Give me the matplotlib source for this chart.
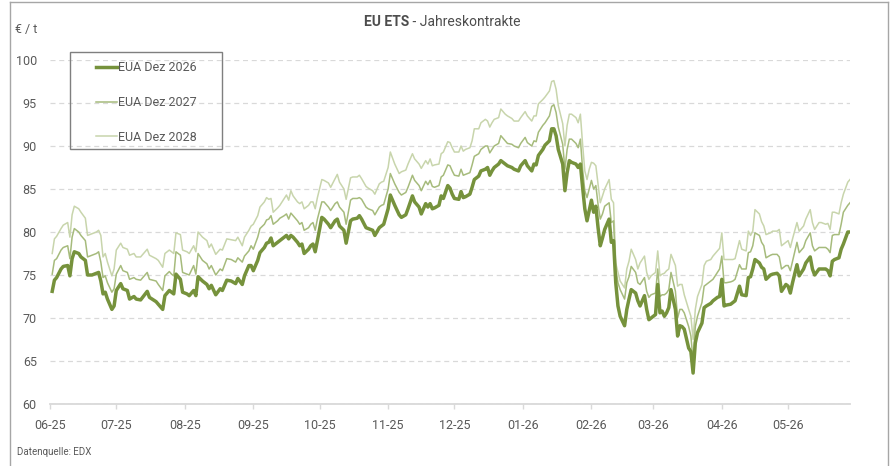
"""EU ETS annual contracts (EUA Dez 2026/2027/2028), daily settlement prices."""

import matplotlib

matplotlib.use("Agg")

import matplotlib.dates as mdates
import matplotlib.pyplot as plt
import pandas as pd
from matplotlib.lines import Line2D
from matplotlib.patches import Rectangle

plt.rcParams["font.family"] = ["Roboto", "DejaVu Sans"]

TEXT_COLOR = "#595959"
GRID_COLOR = "#d9d9d9"

SERIES_LABELS = ["EUA Dez 2026", "EUA Dez 2027", "EUA Dez 2028"]
SERIES_COLORS = ["#76923c", "#a6bb7c", "#c8d5ac"]
SERIES_WIDTHS = [2.5, 1.1, 1.1]

# trading days
DATES = [
    # 2025-06
    "2025-06-02", "2025-06-03", "2025-06-04", "2025-06-06", "2025-06-07", "2025-06-09", "2025-06-10", "2025-06-11",
    "2025-06-12", "2025-06-14", "2025-06-15", "2025-06-17", "2025-06-18", "2025-06-20", "2025-06-22", "2025-06-23",
    "2025-06-24", "2025-06-25", "2025-06-26", "2025-06-27", "2025-06-29", "2025-06-30",
    # 2025-07
    "2025-07-01", "2025-07-03", "2025-07-04", "2025-07-06", "2025-07-07", "2025-07-09", "2025-07-10", "2025-07-12",
    "2025-07-15", "2025-07-16", "2025-07-19", "2025-07-20", "2025-07-22", "2025-07-23", "2025-07-25", "2025-07-26",
    "2025-07-27", "2025-07-28", "2025-07-30", "2025-07-31",
    # 2025-08
    "2025-08-02", "2025-08-03", "2025-08-05", "2025-08-06", "2025-08-07", "2025-08-09", "2025-08-11", "2025-08-12",
    "2025-08-13", "2025-08-15", "2025-08-17", "2025-08-18", "2025-08-20", "2025-08-22", "2025-08-24", "2025-08-25",
    "2025-08-27", "2025-08-28", "2025-08-30", "2025-08-31",
    # 2025-09
    "2025-09-01", "2025-09-03", "2025-09-04", "2025-09-06", "2025-09-07", "2025-09-08", "2025-09-09", "2025-09-10",
    "2025-09-12", "2025-09-13", "2025-09-15", "2025-09-16", "2025-09-17", "2025-09-18", "2025-09-19", "2025-09-21",
    "2025-09-22", "2025-09-23", "2025-09-24", "2025-09-26", "2025-09-27", "2025-09-28", "2025-09-29", "2025-09-30",
    # 2025-10
    "2025-10-02", "2025-10-03", "2025-10-05", "2025-10-06", "2025-10-08", "2025-10-09", "2025-10-10", "2025-10-12",
    "2025-10-13", "2025-10-15", "2025-10-16", "2025-10-18", "2025-10-19", "2025-10-20", "2025-10-22", "2025-10-23",
    "2025-10-25", "2025-10-26", "2025-10-28", "2025-10-29", "2025-10-30",
    # 2025-11
    "2025-11-01", "2025-11-02", "2025-11-04", "2025-11-06", "2025-11-07", "2025-11-09", "2025-11-10", "2025-11-12",
    "2025-11-13", "2025-11-15", "2025-11-16", "2025-11-18", "2025-11-19", "2025-11-20", "2025-11-21", "2025-11-22",
    "2025-11-24", "2025-11-25", "2025-11-26", "2025-11-28", "2025-11-29", "2025-11-30",
    # 2025-12
    "2025-12-01", "2025-12-03", "2025-12-04", "2025-12-05", "2025-12-06", "2025-12-08", "2025-12-09", "2025-12-10",
    "2025-12-12", "2025-12-13", "2025-12-15", "2025-12-16", "2025-12-17", "2025-12-18", "2025-12-19", "2025-12-21",
    "2025-12-22", "2025-12-24", "2025-12-25", "2025-12-27", "2025-12-28", "2025-12-30", "2025-12-31",
    # 2026-01
    "2026-01-02", "2026-01-03", "2026-01-05", "2026-01-06", "2026-01-07", "2026-01-08", "2026-01-10", "2026-01-11",
    "2026-01-13", "2026-01-14", "2026-01-15", "2026-01-16", "2026-01-17", "2026-01-19", "2026-01-20", "2026-01-21",
    "2026-01-22", "2026-01-23", "2026-01-25", "2026-01-26", "2026-01-27", "2026-01-28", "2026-01-29", "2026-01-30",
    "2026-01-31",
    # 2026-02
    "2026-02-01", "2026-02-02", "2026-02-03", "2026-02-04", "2026-02-05", "2026-02-06", "2026-02-07", "2026-02-09",
    "2026-02-10", "2026-02-11", "2026-02-12", "2026-02-13", "2026-02-14", "2026-02-16", "2026-02-17", "2026-02-18",
    "2026-02-19", "2026-02-21", "2026-02-22", "2026-02-23", "2026-02-25", "2026-02-26", "2026-02-27", "2026-02-28",
    # 2026-03
    "2026-03-02", "2026-03-03", "2026-03-04", "2026-03-05", "2026-03-06", "2026-03-07", "2026-03-08", "2026-03-09",
    "2026-03-11", "2026-03-12", "2026-03-13", "2026-03-14", "2026-03-15", "2026-03-17", "2026-03-18", "2026-03-19",
    "2026-03-20", "2026-03-21", "2026-03-23", "2026-03-24", "2026-03-25", "2026-03-27", "2026-03-28", "2026-03-30",
    "2026-03-31",
    # 2026-04
    "2026-04-01", "2026-04-02", "2026-04-03", "2026-04-05", "2026-04-06", "2026-04-07", "2026-04-09", "2026-04-10",
    "2026-04-12", "2026-04-13", "2026-04-14", "2026-04-15", "2026-04-16", "2026-04-18", "2026-04-19", "2026-04-20",
    "2026-04-21", "2026-04-23", "2026-04-24", "2026-04-26", "2026-04-27", "2026-04-28", "2026-04-30",
    # 2026-05
    "2026-05-01", "2026-05-02", "2026-05-03", "2026-05-05", "2026-05-06", "2026-05-08", "2026-05-09", "2026-05-11",
    "2026-05-12", "2026-05-13", "2026-05-15", "2026-05-16", "2026-05-18", "2026-05-19", "2026-05-20", "2026-05-21",
    "2026-05-22", "2026-05-24", "2026-05-25", "2026-05-26", "2026-05-28", "2026-05-29",
]

EUA_DEZ_2026 = [
    73.1, 74.4, 74.7, 75.7, 76.0, 76.1, 74.9, 76.9, 77.7, 77.5, 77.1, 76.7, 75.0, 75.0, 75.2, 75.3, 74.3, 72.8, 73.0, 72.2, 71.0, 71.4,
    73.2, 74.0, 73.4, 73.2, 72.2, 72.5, 72.2, 72.1, 73.1, 72.4, 71.9, 71.6, 71.0, 72.6, 73.2, 73.0, 72.8, 75.1, 74.5, 73.0,
    72.8, 72.6, 73.2, 72.6, 74.8, 74.3, 73.9, 73.4, 73.8, 72.7, 73.4, 73.2, 74.4, 74.3, 74.0, 74.6, 73.9, 74.9, 76.1, 76.1,
    75.5, 76.7, 77.6, 78.2, 78.7, 78.8, 79.3, 78.4, 78.8, 79.0, 79.4, 79.6, 79.2, 79.6, 79.4, 78.8, 78.4, 78.6, 77.5, 78.0, 78.4, 78.6, 77.7, 79.0,
    81.7, 81.5, 80.9, 80.5, 81.3, 81.5, 80.7, 80.2, 78.7, 81.3, 81.5, 81.6, 81.9, 81.5, 80.5, 80.4, 80.2, 79.6, 80.5, 80.7, 80.9,
    82.7, 84.3, 83.1, 82.0, 81.7, 82.0, 82.7, 84.2, 83.5, 82.9, 82.1, 83.3, 82.9, 83.3, 82.7, 82.8, 83.1, 84.2, 83.9, 85.4, 85.1, 84.4,
    83.9, 83.8, 84.7, 84.0, 84.1, 84.4, 85.2, 86.1, 86.5, 87.1, 87.3, 87.5, 86.6, 87.1, 87.5, 87.9, 88.3, 87.9, 87.7, 87.5, 87.3, 87.1, 87.7,
    88.3, 87.7, 87.1, 87.9, 87.8, 88.9, 89.6, 90.1, 90.6, 92.0, 92.0, 91.2, 89.6, 87.9, 84.8, 86.9, 88.3, 88.1, 87.9, 87.5, 87.9, 85.2, 82.7, 81.3, 82.5,
    83.7, 82.3, 83.0, 80.5, 78.4, 79.3, 80.3, 81.5, 78.8, 79.0, 74.1, 71.4, 70.2, 69.1, 71.0, 72.2, 73.3, 72.9, 72.0, 71.4, 72.6, 71.0, 69.8, 70.0,
    70.4, 73.9, 70.6, 70.8, 70.2, 70.6, 71.2, 73.3, 71.0, 67.9, 69.1, 69.0, 68.7, 66.5, 66.1, 63.6, 67.1, 68.3, 69.4, 71.2, 71.4, 71.7, 72.0, 72.4, 72.5,
    74.5, 71.4, 71.5, 71.6, 71.8, 72.0, 73.7, 72.7, 72.6, 74.7, 74.8, 75.7, 76.8, 76.4, 75.9, 75.7, 74.5, 75.0, 75.1, 75.2, 74.9, 73.1, 73.9,
    73.7, 72.9, 74.1, 76.2, 74.9, 75.7, 76.4, 77.1, 75.7, 75.0, 75.7, 75.7, 75.7, 75.5, 74.9, 76.6, 76.8, 77.0, 78.0, 78.6, 80.0, 80.0,
]

EUA_DEZ_2027 = [
    75.1, 76.7, 76.9, 77.9, 78.2, 78.4, 76.9, 79.4, 80.4, 80.0, 79.6, 79.0, 77.1, 77.3, 77.5, 77.7, 76.5, 74.7, 74.9, 74.1, 73.0, 73.4,
    75.1, 76.1, 75.5, 75.3, 74.5, 74.7, 74.5, 74.4, 75.3, 74.5, 74.3, 73.9, 73.2, 74.9, 75.4, 75.1, 74.9, 77.7, 77.3, 75.3,
    75.1, 75.0, 76.1, 75.1, 77.5, 76.7, 76.3, 75.7, 76.1, 75.0, 75.7, 75.5, 76.9, 76.8, 76.5, 77.0, 76.5, 77.2, 77.8, 78.4,
    78.0, 79.4, 80.4, 80.9, 81.4, 81.5, 81.9, 80.9, 81.3, 81.6, 81.9, 82.1, 81.5, 82.2, 81.9, 81.3, 80.9, 81.1, 80.2, 80.5, 80.9, 81.1, 80.2, 81.5,
    83.5, 83.5, 82.9, 82.5, 83.3, 83.5, 82.9, 82.3, 80.9, 83.7, 83.9, 83.9, 84.0, 83.8, 82.9, 82.7, 82.5, 82.0, 82.9, 83.1, 83.2,
    85.0, 86.8, 85.6, 84.6, 84.3, 84.6, 85.2, 86.6, 86.0, 85.4, 84.8, 85.9, 85.5, 86.0, 85.3, 85.2, 85.4, 86.4, 86.6, 87.8, 87.7, 87.1,
    86.6, 86.5, 87.3, 86.6, 86.7, 86.9, 87.8, 88.8, 89.1, 89.6, 90.0, 90.0, 89.2, 89.6, 90.0, 90.3, 91.2, 90.6, 90.3, 90.2, 90.0, 89.8, 90.3,
    91.0, 90.4, 90.0, 90.6, 90.5, 91.6, 92.4, 92.7, 93.5, 94.6, 94.8, 93.9, 92.2, 90.2, 87.3, 89.6, 90.8, 90.8, 90.3, 89.8, 90.8, 87.3, 84.8, 84.0, 85.0,
    86.0, 85.0, 85.4, 83.2, 81.5, 82.1, 83.0, 83.4, 81.1, 81.3, 75.7, 74.1, 73.3, 72.2, 74.1, 74.8, 76.0, 75.3, 74.1, 73.9, 74.7, 73.1, 72.4, 72.7,
    72.9, 75.7, 72.5, 72.7, 72.7, 72.9, 73.3, 75.3, 73.1, 70.0, 71.0, 71.0, 70.6, 69.0, 67.9, 65.0, 69.0, 70.2, 71.8, 73.7, 73.9, 74.3, 74.5, 75.3, 75.7,
    77.2, 74.1, 74.1, 74.2, 74.3, 74.5, 76.2, 75.7, 75.7, 77.6, 77.7, 78.4, 79.9, 79.6, 78.8, 78.4, 77.0, 77.3, 77.4, 77.4, 77.1, 75.7, 76.1,
    76.1, 75.5, 76.6, 78.8, 77.6, 78.2, 79.0, 79.9, 78.4, 77.8, 78.2, 78.2, 78.2, 78.0, 77.6, 79.6, 79.7, 79.7, 80.9, 82.3, 83.1, 83.4,
]

EUA_DEZ_2028 = [
    77.5, 79.2, 79.5, 80.4, 80.8, 81.1, 79.4, 82.0, 83.0, 82.7, 82.3, 81.6, 79.6, 79.8, 80.0, 80.2, 79.6, 77.1, 77.5, 76.5, 74.9, 75.7,
    77.9, 78.7, 78.2, 78.0, 77.3, 77.5, 77.1, 77.1, 78.0, 77.3, 76.9, 76.7, 75.9, 77.5, 77.9, 77.7, 77.5, 79.9, 79.7, 77.9,
    77.7, 77.5, 78.4, 77.7, 80.0, 79.4, 79.0, 78.2, 78.6, 77.4, 78.0, 77.9, 79.2, 79.1, 79.0, 79.4, 78.4, 79.4, 80.2, 80.7,
    80.9, 81.9, 82.9, 83.5, 84.0, 83.8, 83.9, 82.3, 82.8, 83.1, 83.9, 84.3, 83.7, 84.8, 84.2, 83.5, 83.3, 83.5, 82.7, 83.1, 83.5, 83.5, 82.7, 84.0,
    86.1, 86.0, 85.7, 85.2, 86.2, 86.7, 85.8, 85.0, 83.8, 86.3, 86.4, 86.4, 86.6, 86.2, 85.3, 85.1, 84.8, 84.4, 85.6, 85.8, 85.9,
    87.5, 89.3, 87.9, 86.8, 87.0, 87.2, 87.9, 89.1, 88.5, 87.9, 87.4, 88.3, 87.9, 88.5, 87.7, 87.8, 87.9, 89.1, 89.3, 90.5, 90.4, 89.8,
    89.3, 89.3, 90.0, 89.4, 89.6, 89.8, 90.6, 92.0, 92.0, 92.7, 93.1, 92.9, 92.2, 92.7, 93.1, 93.3, 94.3, 93.7, 93.5, 93.2, 92.9, 92.9, 93.3,
    94.0, 93.5, 92.9, 93.5, 93.5, 94.9, 95.4, 95.7, 96.4, 97.5, 97.6, 96.6, 94.7, 92.6, 90.0, 92.4, 93.7, 93.7, 93.3, 92.7, 93.7, 90.2, 87.1, 86.1, 87.3,
    88.1, 88.0, 87.7, 85.6, 83.4, 84.2, 85.0, 86.1, 83.8, 83.4, 76.4, 75.3, 74.3, 73.5, 75.7, 76.6, 78.0, 76.8, 75.7, 76.4, 77.2, 75.3, 74.5, 74.9,
    75.3, 77.8, 74.9, 75.1, 75.2, 75.5, 75.7, 77.4, 76.1, 73.7, 73.9, 73.9, 72.7, 71.0, 70.2, 67.5, 71.0, 72.5, 73.9, 76.1, 76.6, 76.8, 77.2, 77.8, 78.1,
    79.9, 76.8, 76.8, 76.8, 76.8, 76.9, 79.0, 78.0, 77.8, 80.1, 79.6, 80.1, 82.6, 82.1, 81.2, 80.7, 79.7, 79.9, 80.1, 80.1, 80.3, 78.4, 78.8,
    79.0, 78.2, 79.2, 81.1, 80.1, 80.7, 81.5, 82.6, 81.1, 80.3, 81.1, 81.1, 80.9, 81.0, 80.3, 82.3, 82.3, 82.1, 83.4, 84.4, 85.8, 86.1,
]

Y_TICKS = [60, 65, 70, 75, 80, 85, 90, 95, 100]
X_START = "2025-06-01"
X_END = "2026-05-29"

W, H = 891, 466


def fx(px: float) -> float:
    return px / W


def fy(py: float) -> float:
    return 1 - py / H


def draw_frame(fig) -> None:
    # outer box of the source graphic (bottom edge is cut off)
    kw = dict(color="#a6a6a6", lw=1.0, transform=fig.transFigure)
    fig.add_artist(Line2D([fx(9.5), fx(9.5)], [fy(2), 0], **kw))
    fig.add_artist(Line2D([fx(9.5), fx(888)], [fy(2), fy(2)], **kw))
    fig.add_artist(Line2D([fx(888), fx(888)], [fy(2), 0], **kw))


def main() -> None:
    dates = pd.to_datetime(DATES)
    series = [EUA_DEZ_2026, EUA_DEZ_2027, EUA_DEZ_2028]

    fig = plt.figure(figsize=(W / 100, H / 100), dpi=100)
    ax = fig.add_axes([fx(50), fy(404), fx(850) - fx(50), fy(60) - fy(404)])

    handles = []
    for values, label, color, width in zip(series[::-1], SERIES_LABELS[::-1], SERIES_COLORS[::-1], SERIES_WIDTHS[::-1]):
        (line,) = ax.plot(dates, values, color=color, lw=width, label=label, solid_joinstyle="round")
        handles.append(line)
    handles = handles[::-1]

    ax.set_ylim(60, 100)
    ax.set_yticks(Y_TICKS)
    ax.set_xlim(pd.Timestamp(X_START), pd.Timestamp(X_END))
    ax.xaxis.set_major_locator(mdates.MonthLocator())
    ax.xaxis.set_major_formatter(mdates.DateFormatter("%m-%y"))

    ax.set_axisbelow(True)
    ax.grid(axis="y", color=GRID_COLOR, lw=0.9, linestyle=(0, (4, 3)))
    ax.grid(axis="x", visible=False)
    for side in ["top", "right", "left"]:
        ax.spines[side].set_visible(False)
    ax.spines["bottom"].set_color(GRID_COLOR)
    ax.spines["bottom"].set_linewidth(1.3)
    ax.spines["bottom"].set_zorder(0.5)

    ax.tick_params(axis="y", length=0, pad=9.5, labelsize=9, labelcolor=TEXT_COLOR)
    ax.tick_params(axis="x", length=3.5, width=1, color=GRID_COLOR, pad=7.5, labelsize=9, labelcolor=TEXT_COLOR)

    # title: bold part + regular part
    fig.text(fx(409), fy(22), "EU ETS", fontsize=10, fontweight="bold", color="#4d4d4d", ha="right", va="center")
    fig.text(fx(409), fy(22), " - Jahreskontrakte", fontsize=10, color="#4d4d4d", ha="left", va="center")

    fig.text(fx(15), fy(30), "€ / t", fontsize=9, color=TEXT_COLOR, ha="left", va="center")
    fig.text(fx(17), fy(452), "Datenquelle: EDX", fontsize=7, color=TEXT_COLOR, ha="left", va="center")

    leg = fig.legend(
        handles=handles,
        labels=SERIES_LABELS,
        loc="upper left",
        bbox_to_anchor=(fx(96), fy(61)),
        frameon=False,
        fontsize=9,
        handlelength=1.65,
        handletextpad=0.15,
        labelspacing=1.75,
        borderpad=0,
        borderaxespad=0,
    )
    for text in leg.get_texts():
        text.set_color(TEXT_COLOR)
    fig.add_artist(
        Rectangle(
            (fx(70), fy(149)),
            fx(222) - fx(70),
            fy(52) - fy(149),
            transform=fig.transFigure,
            fill=False,
            edgecolor="#7f7f7f",
            lw=1.0,
        )
    )

    draw_frame(fig)
    fig.savefig("out.png", dpi=100)
    plt.close(fig)


if __name__ == "__main__":
    main()
